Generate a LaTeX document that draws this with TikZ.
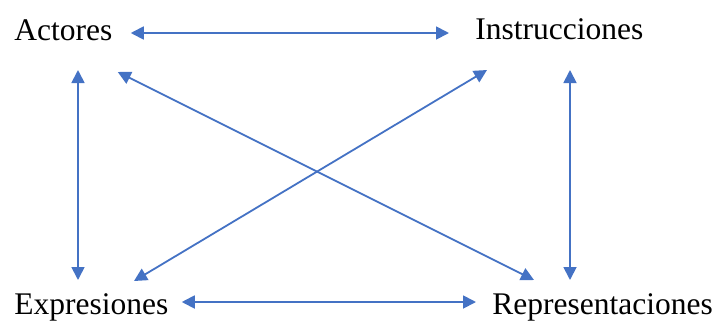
\documentclass[tikz,border=0pt]{standalone}
\usepackage{fontspec}
\setmainfont{Liberation Serif}
\usetikzlibrary{arrows.meta}
\definecolor{linkblue}{RGB}{68,114,196}
\begin{document}
\begin{tikzpicture}[x=0.5pt,y=-0.5pt,
  lbl/.style={inner sep=0pt,anchor=base west,font=\fontsize{15.75}{18}\selectfont},
  link/.style={linkblue,line width=0.9pt,{Triangle[length=6.5pt,width=6.5pt]}-{Triangle[length=6.5pt,width=6.5pt]}}]
	\useasboundingbox (0,0) rectangle (718,322);
	\node[lbl] (act) at (14,40) {Actores};
	\node[lbl] (ins) at (475,39) {Instrucciones};
	\node[lbl] (exp) at (14,314) {Expresiones};
	\node[lbl] (rep) at (492,314) {Representaciones};
	% horizontal
	\draw[link] ([shift={(18,-7)}]act.base east) -- ([shift={(-26,-6)}]ins.base west);
	\draw[link] ([shift={(13,-12)}]exp.base east) -- ([shift={(-16,-12)}]rep.base west);
	% vertical
	\draw[link] ([shift={(64,30)}]act.base west) -- ([shift={(64,-34)}]exp.base west);
	\draw[link] ([shift={(95,31)}]ins.base west) -- ([shift={(78,-34)}]rep.base west);
	% diagonals
	\draw[link] ([shift={(5,32)}]act.base east) -- ([shift={(42,-34)}]rep.base west);
	\draw[link] ([shift={(12,31)}]ins.base west) -- ([shift={(120,-33)}]exp.base west);
\end{tikzpicture}
\end{document}
